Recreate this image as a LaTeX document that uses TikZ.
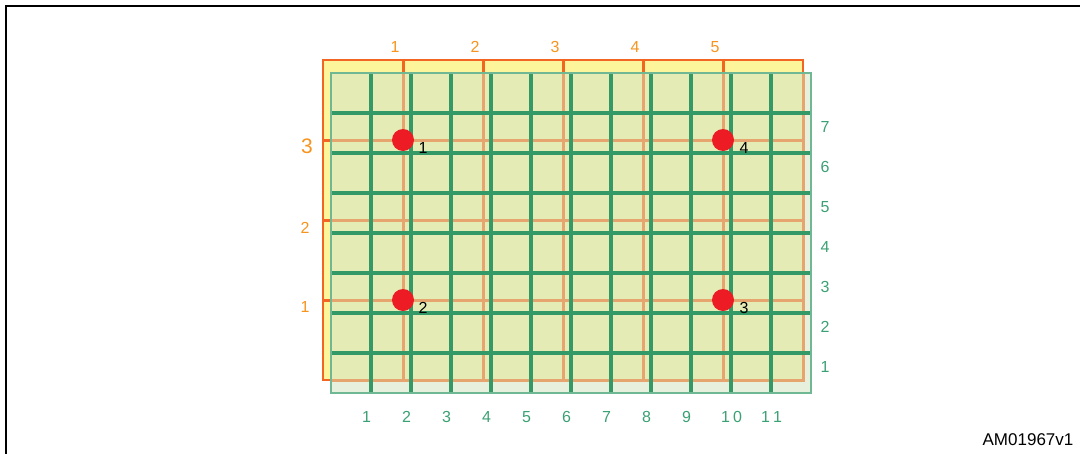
\documentclass[tikz,border=0pt]{standalone}
\usepackage{fontspec}
\setmainfont{Liberation Sans}
\usetikzlibrary{positioning}
\definecolor{gridOrange}{HTML}{F26522}
\definecolor{gridTan}{HTML}{E6A56E}
\definecolor{gridYellow}{HTML}{FCF59B}
\definecolor{gridGreen}{HTML}{339966}
\definecolor{gridMint}{HTML}{D6E6C6}
\definecolor{labOrange}{HTML}{F7941D}
\definecolor{labGreen}{HTML}{3BA073}
\definecolor{dotRed}{HTML}{ED1C24}

\begin{document}
\begin{tikzpicture}[x=1pt,y=-1pt,
  font=\fontsize{16}{19}\selectfont,
  olab/.style={text=labOrange,inner sep=0pt},
  glab/.style={text=labGreen,inner sep=0pt},
  coarse/.style={gridOrange,line width=3pt},
  fine/.style={gridGreen,line width=3.5pt},
  pin/.style={circle,fill=dotRed,minimum size=22pt,inner sep=0pt},
  pinlab/.style={inner sep=0pt}]
  \useasboundingbox (0,0) rectangle (1080,453);
  \clip (0,0) rectangle (1080,453);
  \draw[line width=2pt] (6,6) rectangle (1100,480);
  % coarse grid (orange)
  \fill[gridYellow] (323,60) rectangle (803,380);
  \foreach \i in {1,...,5}
    \draw[coarse] ({323+80*\i},60) -- ({323+80*\i},380);
  \foreach \j in {1,2,3}
    \draw[coarse] (323,{60+80*\j}) -- (803,{60+80*\j});
  \draw[coarse,line width=2.5pt] (323,60) rectangle (803,380);
  % fine grid (green), see-through
  \fill[gridMint,fill opacity=0.61] (331,73) rectangle (811,393);
  \begin{scope}
    \clip (331,73) rectangle (811,393);
    \foreach \i in {1,...,5}
      \draw[coarse,gridTan] ({323+80*\i},60) -- ({323+80*\i},380);
    \foreach \j in {1,2,3}
      \draw[coarse,gridTan] (323,{60+80*\j}) -- (803,{60+80*\j});
    \draw[coarse,gridTan] (323,60) rectangle (803,380);
  \end{scope}
  \foreach \i in {1,...,11}
    \draw[fine] ({331+40*\i},73) -- ({331+40*\i},393);
  \foreach \j in {1,...,7}
    \draw[fine] (331,{73+40*\j}) -- (811,{73+40*\j});
  \draw[gridGreen!70,line width=2.5pt] (331,73) rectangle (811,393);
  % coarse labels
  \foreach \i in {1,...,5}
    \node[olab] (ot\i) at ({395+80*(\i-1)},47) {\i};
  \node[olab,font=\fontsize{21}{25}\selectfont] (ol3) at (307,146) {3};
  \node[olab] (ol2) at (305,228) {2};
  \node[olab] (ol1) at (305,307) {1};
  % fine labels
  \foreach \i in {1,...,9}
    \node[glab,anchor=west] (gb\i) at ({322+40*\i},417) {\i};
  \node[glab,anchor=west] (gb10) at (721,417) {1\kern3pt0};
  \node[glab,anchor=west] (gb11) at (761,417) {1\kern3pt1};
  \foreach \j in {1,...,7}
    \node[glab] (gr\j) at (825,{407-40*\j}) {\j};
  % touch points
  \node[pin] (p1) at (403,140) {};
  \node[pin] (p2) at (403,300) {};
  \node[pin] (p3) at (723,300) {};
  \node[pin] (p4) at (723,140) {};
  \node[pinlab] (p1l) at (423,148) {1};
  \node[pinlab] (p2l) at (423,308) {2};
  \node[pinlab] (p3l) at (744,308) {3};
  \node[pinlab] (p4l) at (744,148) {4};
  \node[inner sep=0pt,font=\fontsize{17}{20}\selectfont] (ref) at (1028,440) {AM01967v1};
\end{tikzpicture}
\end{document}
